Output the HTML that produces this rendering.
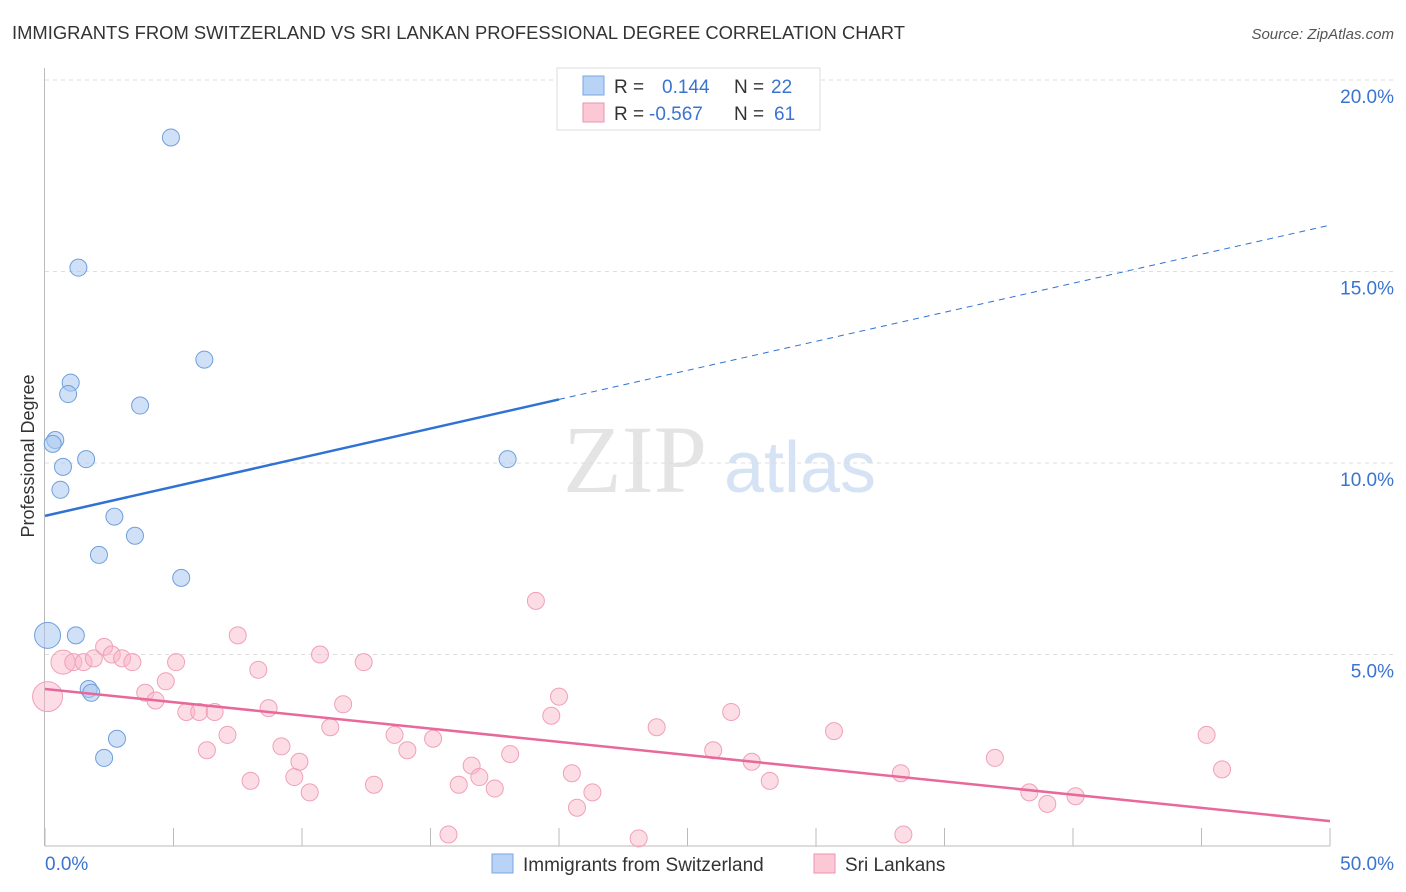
<!DOCTYPE html>
<html><head><meta charset="utf-8"><style>
body{margin:0;background:#fff;font-family:"Liberation Sans",sans-serif;}
svg{display:block}
</style></head><body>
<svg id="chart" width="1406" height="892">
<text x="12" y="39" font-size="18" fill="#333" textLength="893" lengthAdjust="spacingAndGlyphs">IMMIGRANTS FROM SWITZERLAND VS SRI LANKAN PROFESSIONAL DEGREE CORRELATION CHART</text>
<text x="1394" y="39" font-size="15" fill="#555" text-anchor="end" font-style="italic">Source: ZipAtlas.com</text>
<text x="635" y="492" font-size="96" fill="#e4e4e4" font-family="Liberation Serif,serif" text-anchor="middle">ZIP</text>
<text x="800" y="492" font-size="72" fill="#d5e3f5" text-anchor="middle">atlas</text>
<text transform="translate(34,456) rotate(-90)" font-size="18" fill="#333" text-anchor="middle">Professional Degree</text>
<g id="grid"></g><g id="axes"></g><g id="marks"></g>
<g>
<rect x="557" y="68" width="263" height="62" fill="#fff" stroke="#ddd"/>
<rect x="583" y="76" width="21" height="19" fill="#b8d3f5" stroke="#7aa7e0"/>
<rect x="583" y="103" width="21" height="19" fill="#fcc8d6" stroke="#eb95b0"/>
<text x="614" y="93" font-size="19" fill="#333">R = <tspan x="662" fill="#3a74d0">0.144</tspan><tspan x="734" fill="#333">N = </tspan><tspan x="771" fill="#3a74d0">22</tspan></text>
<text x="614" y="120" font-size="19" fill="#333">R = <tspan x="649" fill="#3a74d0">-0.567</tspan><tspan x="734" fill="#333">N = </tspan><tspan x="774" fill="#3a74d0">61</tspan></text>
</g>
<g>
<rect x="492" y="854" width="21" height="19" fill="#b8d3f5" stroke="#7aa7e0"/>
<text x="523" y="871" font-size="19" fill="#333">Immigrants from Switzerland</text>
<rect x="814" y="854" width="21" height="19" fill="#fcc8d6" stroke="#eb95b0"/>
<text x="845" y="871" font-size="19" fill="#333">Sri Lankans</text>
</g>
</svg>
<script>
const yTicks=[5,10,15,20];
const yTickLabels=["5.0%","10.0%","15.0%","20.0%"];
const blueX=[4.9,1.3,6.2,1.0,0.9,3.7,0.4,0.3,1.6,0.7,0.6,2.7,3.5,2.1,5.3,18.0,0.1,1.2,1.7,1.8,2.8,2.3];
const blueY=[18.5,15.1,12.7,12.1,11.8,11.5,10.6,10.5,10.1,9.9,9.3,8.6,8.1,7.6,7.0,10.1,5.5,5.5,4.1,4.0,2.8,2.3];
const pinkX=[0.1,0.7,1.1,1.5,1.9,2.3,2.6,3.0,3.4,3.9,4.3,4.7,5.1,5.5,6.0,6.3,6.6,7.1,7.5,8.0,8.3,8.7,9.2,9.7,9.9,10.3,10.7,11.1,11.6,12.4,12.8,13.6,14.1,15.1,15.7,16.1,16.6,16.9,17.5,18.1,19.1,19.7,20.0,20.5,20.7,21.3,23.1,23.8,26.0,26.7,27.5,28.2,30.7,33.3,33.4,36.96,38.3,39.0,40.1,45.2,45.8];
const pinkY=[3.9,4.8,4.8,4.8,4.9,5.2,5.0,4.9,4.8,4.0,3.8,4.3,4.8,3.5,3.5,2.5,3.5,2.9,5.5,1.7,4.6,3.6,2.6,1.8,2.2,1.4,5.0,3.1,3.7,4.8,1.6,2.9,2.5,2.8,0.3,1.6,2.1,1.8,1.5,2.4,6.4,3.4,3.9,1.9,1.0,1.4,0.2,3.1,2.5,3.5,2.2,1.7,3.0,1.9,0.3,2.3,1.4,1.1,1.3,2.9,2.0];
const blueR=[8.5,8.5,8.5,8.5,8.5,8.5,8.5,8.5,8.5,8.5,8.5,8.5,8.5,8.5,8.5,8.5,13,8.5,8.5,8.5,8.5,8.5];
const pinkR=[15,12];
const xs=v=>45+v*25.7, ys=v=>846-v*38.3;
const NS="http://www.w3.org/2000/svg";
function mk(t,a,p){const e=document.createElementNS(NS,t);for(const k in a)e.setAttribute(k,a[k]);p.appendChild(e);return e;}
const grid=document.getElementById('grid'),axes=document.getElementById('axes'),marks=document.getElementById('marks');
yTicks.forEach((t,i)=>{
 const l=mk('line',{x1:45,x2:1394,y1:ys(t),y2:ys(t),stroke:'#ddd','stroke-dasharray':'4,4'},grid);
 
 
 const tx=mk('text',{x:1394,y:ys(t)+23,'font-size':19,fill:'#3a74d0','text-anchor':'end'},axes);
 tx.textContent=yTickLabels[i];
 
 
});
const ax=mk('line',{x1:44.5,x2:44.5,y1:68,y2:846,stroke:'#bbb'},axes);


const xa=mk('line',{x1:45,x2:1330,y1:846,y2:846,stroke:'#bbb'},axes);


for(let i=0;i<=10;i++){mk('line',{x1:xs(i*5),x2:xs(i*5),y1:828,y2:846,stroke:'#bbb'},axes);}
const x0=mk('text',{x:45,y:870,'font-size':19,fill:'#3a74d0'},axes);x0.textContent='0.0%';


const x1=mk('text',{x:1394,y:870,'font-size':19,fill:'#3a74d0','text-anchor':'end'},axes);x1.textContent='50.0%';


pinkX.forEach((v,i)=>{
 const c=mk('circle',{cx:xs(v),cy:ys(pinkY[i]),r:pinkR[i]||8.5,fill:'rgba(249,180,200,0.45)',stroke:'#f0a0b8','stroke-width':1},marks);
 
 
});
blueX.forEach((v,i)=>{
 const c=mk('circle',{cx:xs(v),cy:ys(blueY[i]),r:blueR[i],fill:'rgba(170,200,240,0.55)',stroke:'#6f9fdc','stroke-width':1},marks);
 
 
});
const b=mk('line',{x1:xs(0),y1:ys(8.62),x2:xs(20),y2:ys(11.66),stroke:'#2f72d4','stroke-width':2.5},marks);


const bd=mk('line',{x1:xs(20),y1:ys(11.66),x2:xs(50),y2:ys(16.21),stroke:'#2f72d4','stroke-width':1,'stroke-dasharray':'6,5'},marks);


const p=mk('line',{x1:xs(0),y1:ys(4.1),x2:xs(50),y2:ys(0.65),stroke:'#e8689a','stroke-width':2.5},marks);


</script>
</body></html>
